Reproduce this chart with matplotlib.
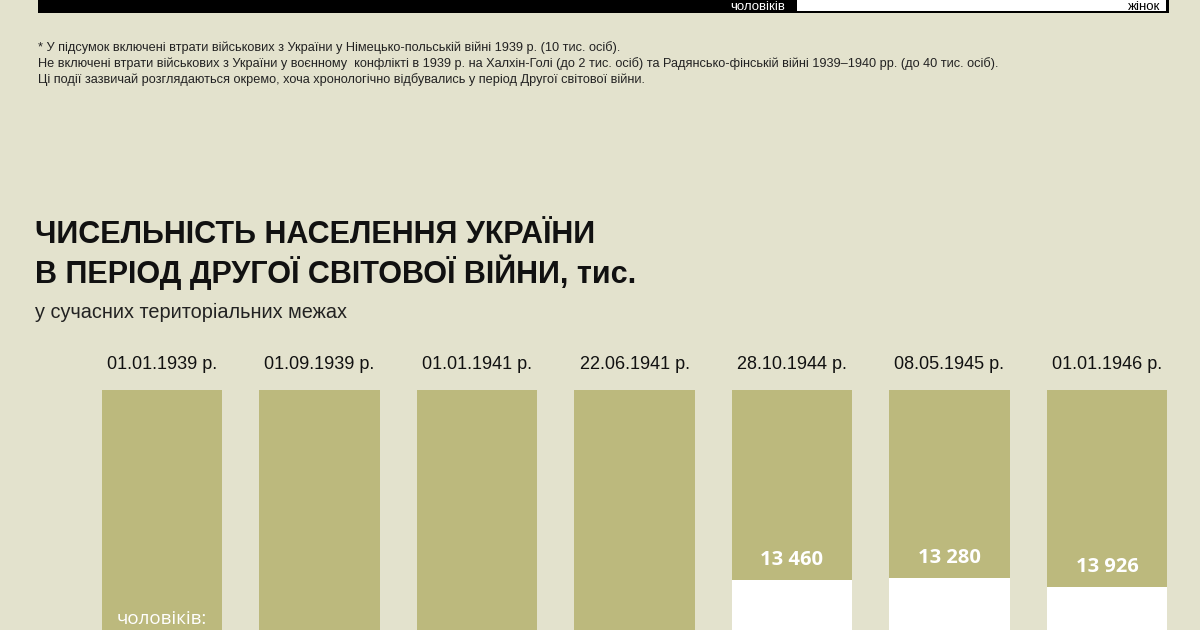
import matplotlib
matplotlib.use("Agg")
import matplotlib.pyplot as plt
from matplotlib.patches import Rectangle

# дати (підписи над стовпчиками)
dates = ["01.01.1939 р.", "01.09.1939 р.", "01.01.1941 р.", "22.06.1941 р.",
         "28.10.1944 р.", "08.05.1945 р.", "01.01.1946 р."]
# чоловіки, тис. (перші чотири у картинці обрізані - оцінка)
men = [19400, 19650, 20250, 20150, 13460, 13280, 13926]
# жінки, тис. (обрізані - оцінка)
women = [21000, 21200, 21900, 21800, 17200, 17000, 17600]

notes = [
    "* У підсумок включені втрати військових з України у Німецько-польській війні 1939 р. (10 тис. осіб).",
    "Не включені втрати військових з України у воєнному  конфлікті в 1939 р. на Халхін-Голі (до 2 тис. осіб) та Радянсько-фінській війні 1939–1940 рр. (до 40 тис. осіб).",
    "Ці події зазвичай розглядаються окремо, хоча хронологічно відбувались у період Другої світової війни.",
]

BG = "#e3e2cd"
OLIVE = "#bcb97d"
NARROW = ["Liberation Sans", "DejaVu Sans"]
WIDE = ["Open Sans", "DejaVu Sans"]

W, H = 1200, 630
fig = plt.figure(figsize=(12, 6.3), dpi=100, facecolor=BG)


def px(x, y):
    return x / W, 1 - y / H


# верхня смуга (обрізана легенда)
fig.patches.append(Rectangle(px(38, 13), (1169 - 38) / W, 13 / H, transform=fig.transFigure,
                             facecolor="black", edgecolor="none"))
fig.patches.append(Rectangle(px(797, 11), (1166 - 797) / W, 11 / H, transform=fig.transFigure,
                             facecolor="white", edgecolor="none"))
fig.text(*px(785, 10.5), "чоловіків", color="white", fontsize=9.5, family=NARROW, ha="right", va="baseline")
fig.text(*px(1160, 10.5), "жінок", color="black", fontsize=9.5, family=NARROW, ha="right", va="baseline")

# примітки
for i, line in enumerate(notes):
    fig.text(*px(38, 51 + 16 * i), line, fontsize=9.2, family=NARROW, color="#222222", va="baseline")

# заголовок
fig.text(*px(35, 243), "ЧИСЕЛЬНІСТЬ НАСЕЛЕННЯ УКРАЇНИ", fontsize=22, family=NARROW,
         weight="bold", color="#111111", va="baseline")
fig.text(*px(35, 283), "В ПЕРІОД ДРУГОЇ СВІТОВОЇ ВІЙНИ, тис.", fontsize=22, family=NARROW,
         weight="bold", color="#111111", va="baseline")
fig.text(*px(35, 318), "у сучасних територіальних межах", fontsize=14.3, family=NARROW,
         color="#222222", va="baseline")

# стовпчики
scale = 0.01412  # пікселів на тис.
ax = fig.add_axes([0, 0, 1, (H - 390) / H])
ax.set_facecolor(BG)
x = list(range(len(dates)))
ax.bar(x, men, width=0.762, color=OLIVE, linewidth=0)
ax.bar(x, women, width=0.762, bottom=men, color="white", linewidth=0)
ax.set_xlim(-162 / 157.5, (W - 162) / 157.5)
ymax = (H - 390) / scale
ax.set_ylim(ymax, 0)
ax.axis("off")

for i, d in enumerate(dates):
    fig.text(px(162 + 157.5 * i, 0)[0], px(0, 369)[1], d, fontsize=13, family=NARROW,
             color="#111111", ha="center", va="baseline")

off = 20 / scale
for i, v in enumerate(men):
    if v - off < ymax:
        ax.text(i, v - off, f"{v:,}".replace(",", " "), color="white", fontsize=14.5,
                family=WIDE, weight="bold", ha="center", va="center")
ax.text(0, men[0] - off - 25 / scale, "чоловіків:", color="white", fontsize=13.5,
        family=WIDE, ha="center", va="center")

fig.savefig("out.png", dpi=100, facecolor=BG)
